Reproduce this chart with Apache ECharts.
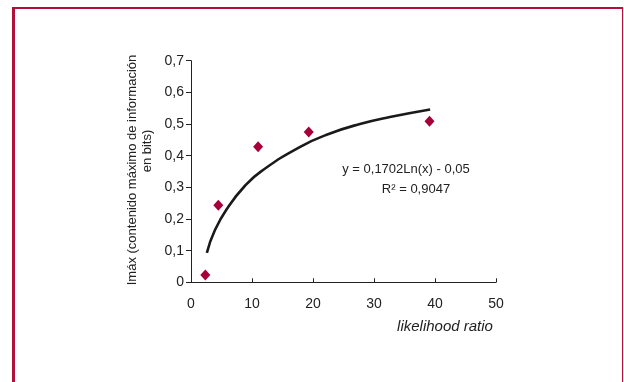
<!DOCTYPE html>
<html>
<head>
<meta charset="utf-8">
<script src="https://cdn.jsdelivr.net/npm/echarts@6/dist/echarts.min.js"></script>
<style>
  html, body { margin: 0; padding: 0; background: #fff; overflow: hidden; }
  #frame { position: absolute; left: 12px; top: 7px; width: 607px; height: 420px;
           border-top: 2px solid #b0103a; border-left: 3px solid #b0103a; border-right: 1px solid #b0103a; }
  #chart { position: absolute; left: 0; top: 0; width: 624px; height: 382px; }
</style>
</head>
<body>
<div id="frame"></div>
<div id="chart"></div>
<script>
// observed points (likelihood ratio, Imáx)
const ratios = [2.35, 4.48, 11.0, 19.3, 39.1];
const imax = [0.023, 0.243, 0.428, 0.475, 0.509];
// logarithmic trend line
const trendX = [2.6, 3.93, 6.1, 8.85, 11.6, 17.9, 22.8, 27.7, 32.6, 39.2];
const trendY = [0.093, 0.165, 0.238, 0.305, 0.352, 0.428, 0.470, 0.500, 0.522, 0.546];
const xTicks = [0, 10, 20, 30, 40, 50];
const yTicks = [0, 0.1, 0.2, 0.3, 0.4, 0.5, 0.6, 0.7];
const eqLine1 = 'y = 0,1702Ln(x) - 0,05';
const eqLine2 = 'R² = 0,9047';
const yName1 = 'Imáx (contenido máximo de información';
const yName2 = 'en bits)';
const xName = 'likelihood ratio';

const chart = echarts.init(document.getElementById('chart'));
const font = 'Liberation Sans, Arial, sans-serif';
const fmt = v => String(Math.round(v * 10) / 10).replace('.', ',');

chart.setOption({
  animation: false,
  grid: { left: 191, right: 128, top: 60.7, bottom: 99.7 },
  xAxis: {
    type: 'value', min: xTicks[0], max: xTicks[xTicks.length - 1], interval: 10,
    axisLine: { lineStyle: { color: '#222', width: 1 } },
    axisTick: { show: true, inside: true, length: 4, lineStyle: { color: '#222' } },
    axisLabel: { color: '#222', fontSize: 14, fontFamily: font, margin: 15 },
    splitLine: { show: false }
  },
  yAxis: {
    type: 'value', min: yTicks[0], max: yTicks[yTicks.length - 1], interval: 0.1,
    axisLine: { show: true, lineStyle: { color: '#222', width: 1 } },
    axisTick: { show: true, length: 5, lineStyle: { color: '#222' } },
    axisLabel: { color: '#222', fontSize: 14, fontFamily: font, margin: 7, formatter: fmt },
    splitLine: { show: false }
  },
  graphic: [
    { type: 'text', x: 132, y: 170, rotation: Math.PI / 2,
      style: { text: yName1, fill: '#222', font: '13px ' + font, textAlign: 'center', textVerticalAlign: 'middle' } },
    { type: 'text', x: 147, y: 151, rotation: Math.PI / 2,
      style: { text: yName2, fill: '#222', font: '13px ' + font, textAlign: 'center', textVerticalAlign: 'middle' } },
    { type: 'text', x: 445, y: 327,
      style: { text: xName, fill: '#222', font: 'italic 15px ' + font, textAlign: 'center', textVerticalAlign: 'middle' } },
    { type: 'text', x: 406, y: 169,
      style: { text: eqLine1, fill: '#222', font: '13px ' + font, textAlign: 'center', textVerticalAlign: 'middle' } },
    { type: 'text', x: 416, y: 189,
      style: { text: eqLine2, fill: '#222', font: '13px ' + font, textAlign: 'center', textVerticalAlign: 'middle' } }
  ],
  series: [
    {
      type: 'line', smooth: true, symbol: 'none',
      lineStyle: { color: '#1a1a1a', width: 2.6 },
      data: trendX.map((x, i) => [x, trendY[i]]),
      z: 2
    },
    {
      type: 'scatter', symbol: 'diamond', symbolSize: [10, 11],
      itemStyle: { color: '#a5003a', opacity: 1 },
      data: ratios.map((x, i) => [x, imax[i]]),
      z: 3
    }
  ]
});
</script>
</body>
</html>
